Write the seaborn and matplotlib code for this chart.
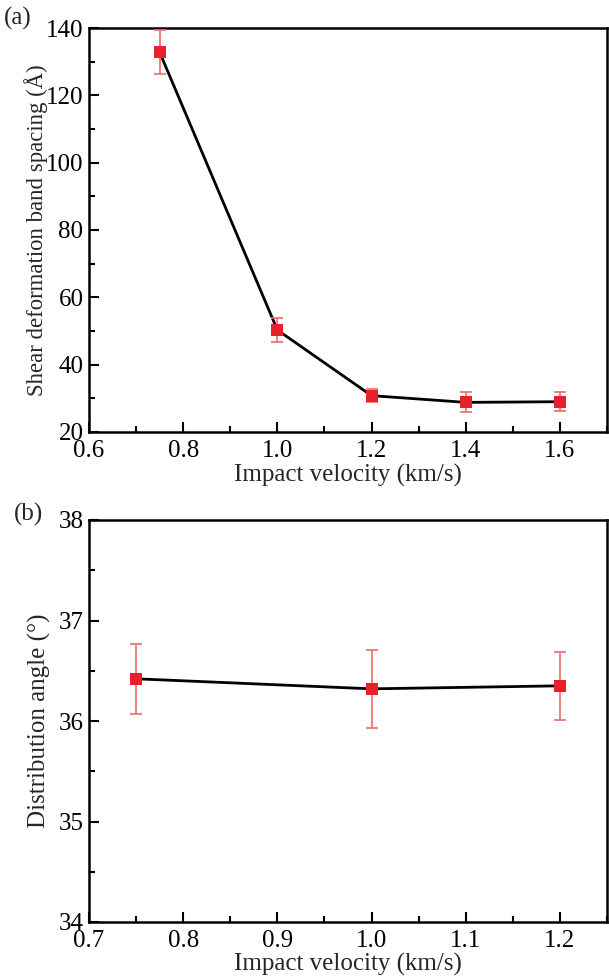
import numpy as np
import pandas as pd
import matplotlib
matplotlib.use("Agg")
import matplotlib.pyplot as plt
import seaborn as sns
from matplotlib.ticker import MultipleLocator

# Data
vel_a = [0.75, 1.0, 1.2, 1.4, 1.6]
spacing = [132.8, 50.3, 30.8, 28.8, 29.0]
spacing_err = [6.5, 3.6, 2.0, 3.0, 2.8]

vel_b = [0.75, 1.0, 1.2]
angle = [36.42, 36.32, 36.35]
angle_err = [0.35, 0.39, 0.34]

sns.set_theme(style="ticks")
plt.rcParams['font.family'] = ['Liberation Serif', 'DejaVu Serif']
plt.rcParams['mathtext.fontset'] = 'stix'

fig = plt.figure(figsize=(6.09, 9.77), dpi=100)
W, H = 609, 977
ax1 = fig.add_axes([89 / W, 1 - 432 / H, (607 - 89) / W, (432 - 28) / H])
ax2 = fig.add_axes([89 / W, 1 - 922 / H, (607 - 89) / W, (922 - 520) / H])

red = '#e8202a'
ered = '#ee6a6a'

def draw(ax, x, y, e):
    df = pd.DataFrame({'x': x, 'y': y})
    sns.lineplot(data=df, x='x', y='y', ax=ax, color='black', lw=2, zorder=2)
    ax.errorbar(x, y, yerr=e, fmt='none', ecolor=ered, elinewidth=1.2,
                capsize=4, capthick=1.2, zorder=3)
    sns.scatterplot(data=df, x='x', y='y', ax=ax, marker='s', color=red,
                    s=85, edgecolor=red, linewidth=0, zorder=4)

draw(ax1, vel_a, spacing, spacing_err)
draw(ax2, vel_b, angle, angle_err)

ax1.set_xlim(0.6, 1.7)
ax1.set_ylim(20, 140)
ax1.xaxis.set_minor_locator(MultipleLocator(0.1))
ax1.yaxis.set_major_locator(MultipleLocator(20))
ax1.yaxis.set_minor_locator(MultipleLocator(10))
ax1.set_xticks([0.6, 0.8, 1.0, 1.2, 1.4, 1.6])
ax1.set_xticklabels(['0.6', '0.8', '1.0', '1.2', '1.4', '1.6'])

ax2.set_xlim(0.7, 1.25)
ax2.set_ylim(34, 38)
ax2.xaxis.set_minor_locator(MultipleLocator(0.05))
ax2.yaxis.set_major_locator(MultipleLocator(1))
ax2.yaxis.set_minor_locator(MultipleLocator(0.5))
ax2.set_xticks([0.7, 0.8, 0.9, 1.0, 1.1, 1.2])
ax2.set_xticklabels(['0.7', '0.8', '0.9', '1.0', '1.1', '1.2'])

for ax in (ax1, ax2):
    for sp in ax.spines.values():
        sp.set_linewidth(1.8)
        sp.set_color('black')
        sp.set_visible(True)
    ax.tick_params(which='both', direction='in', top=False, right=False,
                   labelsize=18, colors='black', width=1.5)
    ax.tick_params(axis='x', pad=6)
    ax.tick_params(axis='y', pad=4)
    ax.tick_params(which='major', length=7)
    ax.tick_params(which='minor', length=4)
    ax.set_xlabel('Impact velocity (km/s)', fontsize=18, va='center')
    ax.xaxis.set_label_coords(0.5, -43 / 404)

ax1.set_ylabel('Shear deformation band spacing (Å)', fontsize=16.4, va='center')
ax1.yaxis.set_label_coords(-53 / 518, 0.5)
ax2.set_ylabel('Distribution angle (°)', fontsize=18, va='center')
ax2.yaxis.set_label_coords(-50 / 518, 0.5)

fig.text(4 / W, 1 - 18 / H, '(a)', fontsize=18, va='center', ha='left')
fig.text(14 / W, 1 - 514 / H, '(b)', fontsize=18, va='center', ha='left')

fig.savefig('out.png', dpi=100)
